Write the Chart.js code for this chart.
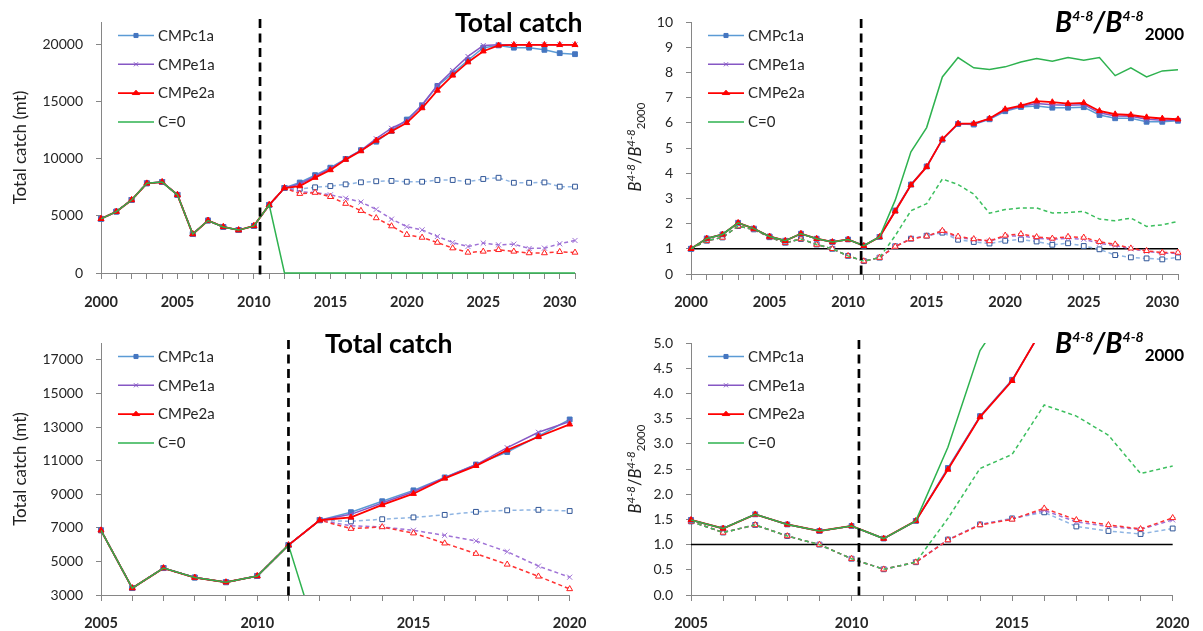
<!DOCTYPE html>
<html>
<head>
<meta charset="utf-8">
<script src="https://cdn.jsdelivr.net/npm/chart.js@4.4.1/dist/chart.umd.min.js"></script>
<style>
html,body{margin:0;padding:0;background:#fff;}
body{width:1203px;height:631px;position:relative;overflow:hidden;font-family:Lato,"Open Sans",sans-serif;color:#000;}
.panel{position:absolute;}
.panel canvas{display:block;}
.ttl{position:absolute;font-weight:700;white-space:nowrap;line-height:1;color:#000;}
.ttl.catch{font-size:26.5px;}
.ttl.bt{font-size:28px;font-style:italic;}
.bt .sp{font-size:14px;position:relative;top:-11px;}
.bt .sb{font-size:17px;position:relative;top:8px;font-style:normal;margin-left:1px;}
.ytl{position:absolute;width:140px;height:20px;line-height:20px;text-align:center;transform:rotate(-90deg);transform-origin:50% 50%;font-size:16.5px;white-space:nowrap;color:#222;}
.ytl i{font-style:italic;}
.ytl .sp{font-size:11.5px;position:relative;top:-6px;font-style:italic;}
.ytl .sb{font-size:11.5px;position:relative;top:4px;}
</style>
</head>
<body>
<div class="panel" style="left:0;top:0;"><canvas id="cTL" width="600" height="312"></canvas></div>
<div class="panel" style="left:600px;top:0;"><canvas id="cTR" width="603" height="312"></canvas></div>
<div class="panel" style="left:0;top:312px;"><canvas id="cBL" width="600" height="319"></canvas></div>
<div class="panel" style="left:600px;top:312px;"><canvas id="cBR" width="603" height="319"></canvas></div>

<div class="ttl catch" style="left:455px;top:9px;">Total catch</div>
<div class="ttl catch" style="left:325px;top:330px;">Total catch</div>
<div class="ttl bt" style="left:1055px;top:7px;">B<span class="sp">4-8</span>/B<span class="sp">4-8</span><span class="sb">2000</span></div>
<div class="ttl bt" style="left:1055px;top:328px;">B<span class="sp">4-8</span>/B<span class="sp">4-8</span><span class="sb">2000</span></div>
<div class="ytl" style="left:565px;top:137px;"><i>B</i><span class="sp">4-8</span>/<i>B</i><span class="sp">4-8</span><span class="sb">2000</span></div>
<div class="ytl" style="left:565px;top:459px;"><i>B</i><span class="sp">4-8</span>/<i>B</i><span class="sp">4-8</span><span class="sb">2000</span></div>

<script>
// ---------------- DATA ----------------
const years = [2000,2001,2002,2003,2004,2005,2006,2007,2008,2009,2010,2011,2012,2013,2014,2015,
               2016,2017,2018,2019,2020,2021,2022,2023,2024,2025,2026,2027,2028,2029,2030,2031];

// Total catch (mt): history 2000-2011, projections 2012-2031
const catchHist   = [4750,5380,6400,7860,7970,6850,3410,4600,4040,3760,4130,5970];
const catchC1a    = [7450,7930,8580,9230,10000,10770,11510,12450,13450,14700,16400,17500,18650,19750,19950,19750,19750,19560,19270,19180];
const catchE1a    = [7450,7800,8480,9150,9980,10750,11770,12690,13330,14750,16450,17750,18980,19940,20000,20000,20000,20000,20000,20000];
const catchE2a    = [7450,7620,8360,9030,9940,10690,11620,12420,13160,14460,16000,17320,18480,19440,19950,20000,20000,20000,20000,20000];
const catchC0     = [0,0,0,0,0,0,0,0,0,0,0,0,0,0,0,0,0,0,0,0];
const catchC1aLow = [7450,7380,7510,7620,7770,7950,8040,8070,8000,8000,8150,8150,8000,8240,8350,7910,7910,7940,7570,7570];
const catchE1aLow = [7450,7120,7050,6850,6550,6220,5580,4720,4060,3780,3200,2670,2320,2620,2470,2530,2150,2180,2560,2850];
const catchE2aLow = [7450,6950,7050,6680,6080,5460,4820,4110,3360,3110,2670,2180,1800,1890,2030,1890,1750,1750,1860,1800];

// B4-8 / B4-8(2000): history 2000-2012, projections 2013-2031
const bHist    = [1.00,1.41,1.57,2.03,1.80,1.49,1.32,1.60,1.40,1.27,1.37,1.12,1.47];
const bHistLow = [1.00,1.32,1.45,1.90,1.77,1.46,1.24,1.39,1.17,1.00,0.72,0.51,0.65];
const bC1a     = [2.52,3.55,4.27,5.33,5.95,5.93,6.14,6.46,6.63,6.67,6.60,6.60,6.62,6.31,6.18,6.18,6.04,6.04,6.08];
const bE1a     = [2.50,3.54,4.26,5.34,5.96,5.95,6.16,6.50,6.66,6.77,6.72,6.70,6.72,6.40,6.27,6.26,6.14,6.10,6.10];
const bE2a     = [2.49,3.53,4.25,5.35,5.97,5.97,6.17,6.54,6.68,6.86,6.82,6.76,6.79,6.47,6.34,6.31,6.22,6.17,6.14];
const bC0      = [2.93,4.85,5.81,7.82,8.59,8.18,8.12,8.22,8.41,8.55,8.44,8.59,8.48,8.59,7.87,8.18,7.82,8.06,8.11];
const bC1aLow  = [1.10,1.40,1.52,1.64,1.36,1.27,1.21,1.32,1.37,1.29,1.16,1.22,1.11,0.98,0.75,0.66,0.62,0.58,0.66];
const bE1aLow  = [1.09,1.40,1.51,1.68,1.45,1.36,1.30,1.49,1.52,1.42,1.37,1.42,1.38,1.22,1.13,1.00,0.90,0.82,0.82];
const bE2aLow  = [1.09,1.39,1.50,1.72,1.49,1.39,1.31,1.53,1.59,1.47,1.41,1.48,1.45,1.28,1.18,1.02,0.92,0.85,0.85];
const bC0Low   = [1.52,2.51,2.79,3.77,3.55,3.17,2.41,2.56,2.62,2.62,2.42,2.44,2.48,2.18,2.11,2.22,1.89,1.95,2.09];

// tick labels
const catchTicksTop    = [0,5000,10000,15000,20000];
const catchTicksBottom = [3000,5000,7000,9000,11000,13000,15000,17000];
const bTicksTop        = [0,1,2,3,4,5,6,7,8,9,10];
const bTicksBottom     = [0,0.5,1,1.5,2,2.5,3,3.5,4,4.5,5];
const yearLabelsTop    = [2000,2005,2010,2015,2020,2025,2030];
const yearLabelsBottom = [2005,2010,2015,2020];

// reference markers (in data units)
const refLevel = 1;
const cutYearTL = 2010.4, cutYearTR = 2010.83, cutYearBL = 2011.0, cutYearBR = 2010.23;

// ---------------- STYLE ----------------
const FONT = 'Lato, "Open Sans", sans-serif';
const AXIS = '#868686';
const TXT = '#262626';
const STYLE = {
  c1a:   {label:'CMPc1a', line:'#5b9bd5', w:1.5, dash:[],    pt:'rect',     r:3.4, fill:'#4576c0', edge:'#4576c0'},
  e1a:   {label:'CMPe1a', line:'#8657c4', w:1.5, dash:[],    pt:'crossRot', r:3.4, fill:'#8657c4', edge:'#8657c4'},
  e2a:   {label:'CMPe2a', line:'#ff0000', w:1.8, dash:[],    pt:'triangle', r:3.4, fill:'#ff0000', edge:'#ff0000'},
  c0:    {label:'C=0',    line:'#2eb24f', w:1.5, dash:[],    pt:false,      r:0},
  c1aLo: {line:'#8fb5e3', w:1.5, dash:[4,3], pt:'rect',     r:3.4, fill:'#ffffff', edge:'#2f5597'},
  e1aLo: {line:'#9f72d6', w:1.5, dash:[4,3], pt:'crossRot', r:3.6, fill:'#9f72d6', edge:'#9f72d6'},
  e2aLo: {line:'#ff3333', w:1.5, dash:[4,3], pt:'triangle', r:3.4, fill:'#ffffff', edge:'#ff2020'},
  c0Lo:  {line:'#3cbf5e', w:1.5, dash:[4,3], pt:false,      r:0}
};
const LEGEND_KEYS = ['c1a','e1a','e2a','c0'];

function drawMarker(ctx, style, x, y, r, fill, edge) {
  ctx.save();
  ctx.setLineDash([]);
  ctx.lineWidth = 1;
  ctx.fillStyle = fill; ctx.strokeStyle = edge;
  ctx.beginPath();
  if (style === 'rect') {
    const s = r * Math.SQRT1_2;
    ctx.rect(x - s, y - s, 2 * s, 2 * s); ctx.fill(); ctx.stroke();
  } else if (style === 'triangle') {
    const h = r * 1.5, half = r * 1.3;
    ctx.moveTo(x, y - r); ctx.lineTo(x + half, y + h - r); ctx.lineTo(x - half, y + h - r); ctx.closePath();
    ctx.fill(); ctx.stroke();
  } else if (style === 'crossRot') {
    const s = r * Math.SQRT1_2;
    ctx.moveTo(x - s, y - s); ctx.lineTo(x + s, y + s);
    ctx.moveTo(x + s, y - s); ctx.lineTo(x - s, y + s); ctx.stroke();
  }
  ctx.restore();
}

const overlay = {
  id: 'overlay',
  beforeDatasetsDraw(chart, args, o) {
    if (o.ref === undefined || o.ref === null) return;
    const {ctx, chartArea: a} = chart;
    const y = chart.scales.y.getPixelForValue(o.ref);
    ctx.save(); ctx.strokeStyle = '#000'; ctx.lineWidth = 1.5; ctx.setLineDash([]);
    ctx.beginPath(); ctx.moveTo(a.left, y); ctx.lineTo(a.right, y); ctx.stroke(); ctx.restore();
  },
  afterDatasetsDraw(chart, args, o) {
    const {ctx, chartArea: a} = chart;
    const x = chart.scales.x.getPixelForValue(o.cut);
    ctx.save(); ctx.strokeStyle = '#000'; ctx.lineWidth = 2.7; ctx.setLineDash([9, 5.5]);
    ctx.beginPath(); ctx.moveTo(x, a.top - 3); ctx.lineTo(x, a.bottom + 2); ctx.stroke(); ctx.restore();
  },
  afterDraw(chart) {
    const {ctx, chartArea: a} = chart;
    const x0 = a.left + 17;
    let y = a.top + 13.5;
    LEGEND_KEYS.forEach(k => {
      const s = STYLE[k];
      ctx.save();
      ctx.strokeStyle = s.line; ctx.lineWidth = s.w; ctx.setLineDash([]);
      ctx.beginPath(); ctx.moveTo(x0, y); ctx.lineTo(x0 + 36, y); ctx.stroke();
      if (s.pt) drawMarker(ctx, s.pt, x0 + 18, y, s.r * 0.85, s.fill, s.edge);
      ctx.fillStyle = TXT; ctx.font = '15px ' + FONT; ctx.textBaseline = 'middle'; ctx.textAlign = 'left';
      ctx.fillText(s.label, x0 + 40, y + 0.5);
      ctx.restore();
      y += 28.8;
    });
  }
};

function ds(key, values, x0, x1, clip) {
  const s = STYLE[key];
  return {
    label: s.label || '',
    data: years.map((yr, i) => ({x: yr, y: values[i]})).filter(p => p.x >= x0 && p.x <= x1),
    borderColor: s.line, borderWidth: s.w, borderDash: s.dash,
    pointStyle: s.pt || 'circle', pointRadius: s.r, pointHoverRadius: s.r,
    pointBackgroundColor: s.fill || s.line, pointBorderColor: s.edge || s.line, pointBorderWidth: 1,
    fill: false, tension: 0, clip: clip
  };
}

function build(id, cfg) {
  const canvas = document.getElementById(id);
  const W = canvas.width, H = canvas.height;
  const yTitle = cfg.yTitle
    ? {display: true, text: cfg.yTitle, color: '#222', font: {family: FONT, size: 17}, padding: {top: 10, bottom: 0}}
    : {display: false};
  new Chart(canvas, {
    type: 'line',
    data: {datasets: cfg.datasets},
    options: {
      responsive: false, animation: false, events: [],
      layout: {padding: {left: 0, top: cfg.area.top, right: W - cfg.area.right, bottom: 0}},
      plugins: {legend: {display: false}, tooltip: {enabled: false}, overlay: {cut: cfg.cut, ref: cfg.ref}},
      scales: {
        x: {
          type: 'linear', min: cfg.xMin, max: cfg.xMax,
          afterFit: s => { s.height = H - cfg.area.bottom; },
          afterBuildTicks: s => { s.ticks = years.filter(v => v >= cfg.xMin && v <= cfg.xMax).map(v => ({value: v})); },
          ticks: {autoSkip: false, maxRotation: 0, padding: cfg.xPad, color: TXT,
                  font: {family: FONT, size: 14.5, weight: 'bold'},
                  callback: v => cfg.xLabels.includes(v) ? String(v) : ''},
          grid: {drawOnChartArea: false, drawTicks: true, tickLength: 6, color: AXIS},
          border: {display: true, color: AXIS, width: 1}
        },
        y: {
          type: 'linear', min: cfg.yMin, max: cfg.yMax,
          afterFit: s => { s.width = cfg.area.left; },
          afterBuildTicks: s => { s.ticks = cfg.yTicks.map(v => ({value: v})); },
          ticks: {padding: 13, color: TXT, font: {family: FONT, size: 14}, callback: cfg.yFmt},
          grid: {drawOnChartArea: false, drawTicks: true, tickLength: 5, color: AXIS},
          border: {display: true, color: AXIS, width: 1},
          title: yTitle
        }
      }
    },
    plugins: [overlay]
  });
}

function full(hist, proj) { return hist.concat(proj); }

function catchSets(x0, x1, clip) {
  return [
    ds('c0',    full(catchHist, catchC0), x0, x1, clip),
    ds('e2a',   full(catchHist, catchE2a), x0, x1, clip),
    ds('e1a',   full(catchHist, catchE1a), x0, x1, clip),
    ds('c1a',   full(catchHist, catchC1a), x0, x1, clip),
    ds('e2aLo', full(catchHist, catchE2aLow), x0, x1, clip),
    ds('e1aLo', full(catchHist, catchE1aLow), x0, x1, clip),
    ds('c1aLo', full(catchHist, catchC1aLow), x0, x1, clip)
  ];
}
function bSets(x0, x1, clip) {
  return [
    ds('c0',    full(bHist, bC0), x0, x1, clip),
    ds('e2a',   full(bHist, bE2a), x0, x1, clip),
    ds('e1a',   full(bHist, bE1a), x0, x1, clip),
    ds('c1a',   full(bHist, bC1a), x0, x1, clip),
    ds('c0Lo',  full(bHistLow, bC0Low), x0, x1, clip),
    ds('e2aLo', full(bHistLow, bE2aLow), x0, x1, clip),
    ds('e1aLo', full(bHistLow, bE1aLow), x0, x1, clip),
    ds('c1aLo', full(bHistLow, bC1aLow), x0, x1, clip)
  ];
}

build('cTL', {
  area: {left: 101, top: 22, right: 575, bottom: 273},
  xMin: 2000, xMax: 2031, xLabels: yearLabelsTop, xPad: 14.5,
  yMin: 0, yMax: 22000, yTicks: catchTicksTop, yFmt: v => String(v),
  yTitle: 'Total catch (mt)', cut: cutYearTL,
  datasets: catchSets(2000, 2031, {left: 6, right: 6, top: 6, bottom: 2})
});
build('cTR', {
  area: {left: 91, top: 22, right: 578, bottom: 274},
  xMin: 2000, xMax: 2031, xLabels: yearLabelsTop, xPad: 14,
  yMin: 0, yMax: 10, yTicks: bTicksTop, yFmt: v => String(v),
  yTitle: null, cut: cutYearTR, ref: refLevel,
  datasets: bSets(2000, 2031, {left: 6, right: 6, top: 6, bottom: 2})
});
build('cBL', {
  area: {left: 101, top: 31, right: 575, bottom: 283},
  xMin: 2005, xMax: 2020, xLabels: yearLabelsBottom, xPad: 13.5,
  yMin: 3000, yMax: 18000, yTicks: catchTicksBottom, yFmt: v => String(v),
  yTitle: 'Total catch (mt)', cut: cutYearBL,
  datasets: catchSets(2005, 2020, {left: 6, right: 6, top: 6, bottom: 0})
});
build('cBR', {
  area: {left: 91, top: 31, right: 579, bottom: 283},
  xMin: 2005, xMax: 2020, xLabels: yearLabelsBottom, xPad: 13.5,
  yMin: 0, yMax: 5, yTicks: bTicksBottom, yFmt: v => v.toFixed(1),
  yTitle: null, cut: cutYearBR, ref: refLevel,
  datasets: bSets(2005, 2020, {left: 6, right: 6, top: 0, bottom: 2})
});
</script>
</body>
</html>
